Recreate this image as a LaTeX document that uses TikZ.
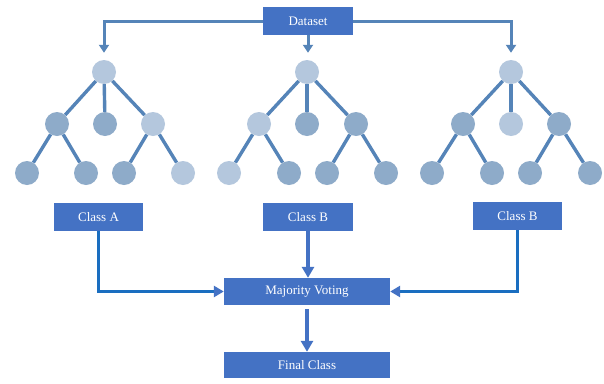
\documentclass[tikz,border=0pt]{standalone}
\usepackage{fontspec}
\setmainfont{Liberation Serif}
\usetikzlibrary{arrows.meta}
\definecolor{boxblue}{HTML}{4472C4}
\definecolor{lightnode}{HTML}{B4C7DD}
\definecolor{darknode}{HTML}{8EABC9}
\definecolor{treeedge}{HTML}{5584B8}
\definecolor{linkblue}{HTML}{1A6EC0}
\tikzset{
  box/.style={draw=none,fill=boxblue,text=white,font=\fontsize{13}{15}\selectfont,inner sep=0pt},
  ln/.style={circle,fill=lightnode,minimum size=24pt,inner sep=0pt},
  dn/.style={circle,fill=darknode,minimum size=24pt,inner sep=0pt},
  tedge/.style={draw=treeedge,line width=3.4pt},
  toparrow/.style={draw=treeedge,line width=3pt,-{Triangle[width=10pt,length=8pt]},shorten >=7pt},
  sidearrow/.style={draw=linkblue,line width=3.2pt,-{Triangle[width=11pt,length=10pt,color=boxblue]}},
  downarrow/.style={draw=boxblue,line width=4pt,-{Triangle[width=12pt,length=11pt]}}
}
\begin{document}
\begin{tikzpicture}[x=1pt,y=-1pt]
\useasboundingbox[fill=white] (0,0) rectangle (604,383);
% boxes
\node[box,minimum width=90pt,minimum height=28pt] (ds) at (308,21) {Dataset};
\node[box,minimum width=89pt,minimum height=28pt] (ca) at (98.5,217) {Class A};
\node[box,minimum width=90pt,minimum height=28pt] (cb) at (308,217) {Class B};
\node[box,minimum width=89pt,minimum height=28pt] (cc) at (517.5,216) {Class B};
\node[box,minimum width=166pt,minimum height=27pt] (mv) at (307,291.5) {Majority Voting};
\node[box,minimum width=166pt,minimum height=26pt] (fc) at (307,365) {Final Class};
% tree 1
\node[ln] (a0) at (104,72) {};
\node[dn] (a1) at (57,124) {};
\node[dn] (a2) at (105,124) {};
\node[ln] (a3) at (153,124) {};
\node[dn] (a4) at (27,173) {};
\node[dn] (a5) at (86,173) {};
\node[dn] (a6) at (124,173) {};
\node[ln] (a7) at (183,173) {};
% tree 2
\node[ln] (b0) at (307,72) {};
\node[ln] (b1) at (259,124) {};
\node[dn] (b2) at (307,124) {};
\node[dn] (b3) at (356,124) {};
\node[ln] (b4) at (229,173) {};
\node[dn] (b5) at (289,173) {};
\node[dn] (b6) at (327,173) {};
\node[dn] (b7) at (386,173) {};
% tree 3
\node[ln] (c0) at (511,72) {};
\node[dn] (c1) at (463,124) {};
\node[ln] (c2) at (511,124) {};
\node[dn] (c3) at (559,124) {};
\node[dn] (c4) at (432,173) {};
\node[dn] (c5) at (492,173) {};
\node[dn] (c6) at (530,173) {};
\node[dn] (c7) at (590,173) {};
% tree edges
\foreach \t in {a,b,c}{
  \draw[tedge] (\t0) -- (\t1);
  \draw[tedge] (\t0) -- (\t2);
  \draw[tedge] (\t0) -- (\t3);
  \draw[tedge] (\t1) -- (\t4);
  \draw[tedge] (\t1) -- (\t5);
  \draw[tedge] (\t3) -- (\t6);
  \draw[tedge] (\t3) -- (\t7);
}
% top connectors
\draw[toparrow] (ds.west) -| (a0);
\draw[toparrow] (ds.south) -- (ds.south |- b0.north);
\draw[toparrow] (ds.east) -| (c0);
% bottom connectors
\draw[sidearrow] (ca.south) |- (mv.west);
\draw[sidearrow] (cc.south) |- (mv.east);
\draw[downarrow] (cb.south) -- (cb.south |- mv.north);
\draw[downarrow,shorten <=4pt] (mv.south) -- (fc.north);
\end{tikzpicture}
\end{document}
